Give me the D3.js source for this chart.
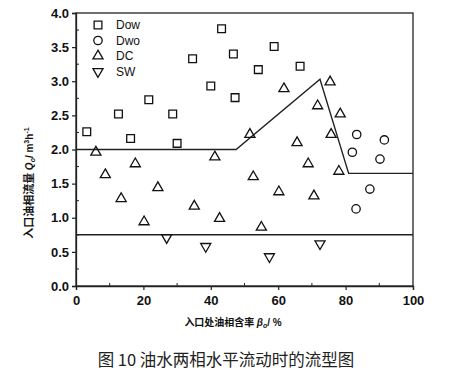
<!DOCTYPE html>
<html>
<head>
<meta charset="utf-8">
<script src="https://cdn.jsdelivr.net/npm/d3@7/dist/d3.min.js"></script>
<style>
  body { margin: 0; background: #fff; }
  svg text { font-family: "Liberation Sans", Arial, sans-serif; }
</style>
</head>
<body>
<div id="chart"></div>
<script>
// flow pattern data (x = oil fraction %, y = oil flow m3/h)
var dowX = [3.2, 12.6, 16.2, 21.6, 28.7, 30.0, 34.6, 40.0, 43.2, 46.7, 47.2, 54.1, 58.8, 66.5];
var dowY = [2.26, 2.52, 2.16, 2.73, 2.52, 2.09, 3.33, 2.93, 3.77, 3.40, 2.76, 3.17, 3.51, 3.22];

var dwoX = [83.3, 91.5, 82.0, 90.2, 87.2, 83.1];
var dwoY = [2.22, 2.14, 1.96, 1.86, 1.42, 1.13];

var dcX = [5.9, 8.7, 13.4, 17.6, 20.2, 24.3, 35.1, 41.2, 42.6, 51.6, 52.6, 55.0, 60.2, 61.7, 65.6, 68.9, 70.6, 71.7, 75.4, 75.7, 78.0, 78.4];
var dcY = [1.96, 1.63, 1.28, 1.79, 0.94, 1.44, 1.17, 1.89, 0.99, 2.22, 1.60, 0.86, 1.38, 2.89, 2.10, 1.79, 1.32, 2.64, 2.99, 2.22, 1.68, 2.52];

var swX = [26.9, 38.5, 57.4, 72.4];
var swY = [0.71, 0.58, 0.43, 0.62];

// boundary lines between flow regimes
var upperX = [0, 47.5, 72.4, 80.9, 100];
var upperY = [2.0, 2.0, 3.03, 1.65, 1.65];
var lowerX = [0, 100];
var lowerY = [0.75, 0.75];

var legendNames = ["Dow", "Dwo", "DC", "SW"];
var xTicks = [0, 20, 40, 60, 80, 100];
var yTicks = [0, 0.5, 1, 1.5, 2, 2.5, 3, 3.5, 4];

var margin = {top: 13, right: 38, bottom: 90, left: 76},
    width = 413 - 76,
    height = 286 - 13;

var svg = d3.select("#chart").append("svg")
    .attr("width", 451)
    .attr("height", 376);

var g = svg.append("g")
    .attr("transform", "translate(" + margin.left + "," + margin.top + ")");

var x = d3.scaleLinear().domain([0, 100]).range([0, width]);
var y = d3.scaleLinear().domain([0, 4]).range([height, 0]);

// frame
g.append("rect")
    .attr("width", width).attr("height", height)
    .attr("fill", "none").attr("stroke", "#222").attr("stroke-width", 1.3);

// axes
var xAxis = d3.axisBottom(x).tickValues(xTicks).tickSize(4).tickFormat(d3.format("d"));
var yAxis = d3.axisLeft(y).tickValues(yTicks).tickSize(4).tickFormat(d3.format(".1f"));

var gx = g.append("g").attr("transform", "translate(0," + height + ")").call(xAxis);
var gy = g.append("g").call(yAxis);
[gx, gy].forEach(function(a) {
    a.select(".domain").attr("stroke", "#222").attr("stroke-width", 1.3);
    a.selectAll(".tick line").attr("stroke", "#222").attr("stroke-width", 1.2);
    a.selectAll(".tick text").attr("fill", "#111")
        .style("font-size", "13px").style("font-weight", "bold");
});
gx.selectAll(".tick text").attr("dy", "0.95em");

// minor ticks, inside
var xMinor = d3.range(10, 100, 20);
g.selectAll(".xminor").data(xMinor).enter().append("line")
    .attr("x1", function(d) { return x(d); }).attr("x2", function(d) { return x(d); })
    .attr("y1", height).attr("y2", height - 3)
    .attr("stroke", "#222");
var yMinor = d3.range(0.25, 4, 0.5);
g.selectAll(".yminor").data(yMinor).enter().append("line")
    .attr("x1", 0).attr("x2", 3)
    .attr("y1", function(d) { return y(d); }).attr("y2", function(d) { return y(d); })
    .attr("stroke", "#222");

// boundary lines
var line = d3.line().x(function(d) { return x(d[0]); }).y(function(d) { return y(d[1]); });
g.append("path").datum(d3.zip(upperX, upperY))
    .attr("d", line).attr("fill", "none").attr("stroke", "#222").attr("stroke-width", 1.4);
g.append("path").datum(d3.zip(lowerX, lowerY))
    .attr("d", line).attr("fill", "none").attr("stroke", "#222").attr("stroke-width", 1.4);

// markers
var sq = d3.symbol().type(d3.symbolSquare).size(60);
var circ = d3.symbol().type(d3.symbolCircle).size(55);
var tri = d3.symbol().type(d3.symbolTriangle).size(44);

function drawSet(xs, ys, sym, rot, cls) {
    g.selectAll("." + cls).data(d3.zip(xs, ys)).enter().append("path")
        .attr("class", cls)
        .attr("d", sym)
        .attr("transform", function(d) {
            return "translate(" + x(d[0]) + "," + y(d[1]) + ") rotate(" + rot + ")";
        })
        .attr("fill", "none").attr("stroke", "#111").attr("stroke-width", 1.3);
}
drawSet(dowX, dowY, sq, 0, "dow");
drawSet(dwoX, dwoY, circ, 0, "dwo");
drawSet(dcX, dcY, tri, 0, "dc");
drawSet(swX, swY, tri, 180, "sw");

// legend
var legSyms = [[sq, 0], [circ, 0], [tri, 0], [tri, 180]];
var leg = g.append("g").attr("transform", "translate(22,12)");
legendNames.forEach(function(name, i) {
    leg.append("path")
        .attr("d", legSyms[i][0])
        .attr("transform", "translate(0," + (i * 15.5) + ") rotate(" + legSyms[i][1] + ")")
        .attr("fill", "none").attr("stroke", "#111").attr("stroke-width", 1.3);
    leg.append("text")
        .attr("x", 18).attr("y", i * 15.5).attr("dy", "0.35em")
        .style("font-size", "12px").attr("fill", "#111")
        .text(name);
});

// axis titles
var xt = svg.append("text")
    .attr("x", 233).attr("y", 326)
    .attr("text-anchor", "middle")
    .style("font-size", "10px").style("font-weight", "bold").attr("fill", "#111");
xt.append("tspan").style("font-family", "Noto Sans CJK SC").text("入口处油相含率 ");
xt.append("tspan").style("font-style", "italic").text("β");
xt.append("tspan").style("font-size", "7px").style("font-style", "italic").attr("dy", 2).text("o");
xt.append("tspan").attr("dy", -2).text("/ %");

var yt = svg.append("text")
    .attr("transform", "translate(33,183) rotate(-90)")
    .attr("text-anchor", "middle")
    .style("font-size", "10px").style("font-weight", "bold").attr("fill", "#111");
yt.append("tspan").style("font-family", "Noto Sans CJK SC").style("font-size", "11px").text("入口油相流量 ");
yt.append("tspan").style("font-style", "italic").text("Q");
yt.append("tspan").style("font-size", "7px").style("font-style", "italic").attr("dy", 2).text("o");
yt.append("tspan").attr("dy", -2).text("/ m");
yt.append("tspan").style("font-size", "7px").attr("dy", -4).text("3");
yt.append("tspan").attr("dy", 4).text("h");
yt.append("tspan").style("font-size", "7px").attr("dy", -4).text("-1");

// caption
svg.append("text")
    .attr("x", 226).attr("y", 366)
    .attr("text-anchor", "middle")
    .style("font-family", "Noto Sans CJK SC")
    .style("font-size", "16.5px").attr("fill", "#222")
    .text("图 10  油水两相水平流动时的流型图");
</script>
</body>
</html>
